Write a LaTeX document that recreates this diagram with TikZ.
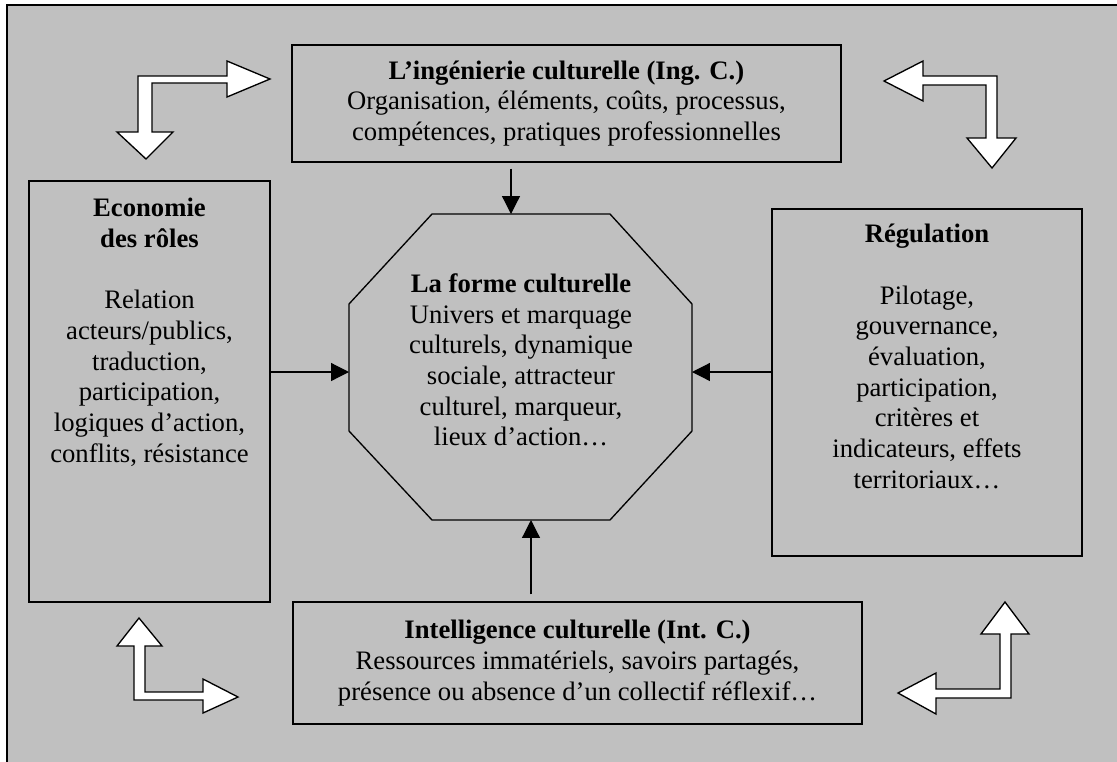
\documentclass[tikz,border=0pt]{standalone}
\usepackage{fontspec}
\setmainfont{Liberation Serif}
\usetikzlibrary{arrows.meta,fit,calc}
\definecolor{fond}{HTML}{C0C0C0}
\tikzset{
  cadre/.style={draw, fill=fond, line width=0.6pt, inner sep=0pt},
  texte/.style={align=center, inner sep=0pt, font=\fontsize{12}{13.8}\selectfont},
  fleche/.style={line width=0.55pt, -{Triangle[length=8pt,width=8pt]}},
  coude/.style={draw, fill=white, line width=0.6pt, line join=miter},
}

\begin{document}
\begin{tikzpicture}[x=0.45pt,y=-0.45pt]
\useasboundingbox (0,0) rectangle (1117,761);
\draw[fill=fond, line width=0.6pt] (7,5) rectangle (1140,780);

\node[cadre, fit={(292,45) (841,162)}] (ing) {};
\node[cadre, fit={(29,181) (270,602)}] (eco) {};
\node[cadre, fit={(772,209) (1082,556)}] (reg) {};
\node[cadre, fit={(293,602) (862,724)}] (int) {};

\coordinate (f1) at (432,214);
\coordinate (f2) at (610,214);
\coordinate (f3) at (692,304);
\coordinate (f4) at (692,431);
\coordinate (f5) at (610,520);
\coordinate (f6) at (432,520);
\coordinate (f7) at (349,431);
\coordinate (f8) at (349,304);
\draw[cadre] (f1) -- (f2) -- (f3) -- (f4) -- (f5) -- (f6) -- (f7) -- (f8) -- cycle;

\coordinate (forme-n) at (511,214);
\coordinate (forme-s) at (531,520);
\coordinate (forme-w) at (349,372);
\coordinate (forme-e) at (692,372);

\node[texte] (ing-t) at (ing.center) {\textbf{L’ingénierie culturelle (Ing. C.)}\\Organisation, éléments, coûts, processus,\\compétences, pratiques professionnelles};
\node[texte, anchor=north] (eco-t) at (149.5,198) {\textbf{Economie}\\\textbf{des rôles}\\[13.8pt]Relation\\acteurs/publics,\\traduction,\\participation,\\logiques d’action,\\conflits, résistance};
\node[texte, anchor=north] (reg-t) at (927,224) {\textbf{Régulation}\\[13.8pt]Pilotage,\\gouvernance,\\évaluation,\\participation,\\critères et\\indicateurs, effets\\territoriaux…};
\node[texte] (int-t) at (int.center) {\textbf{Intelligence culturelle (Int. C.)}\\Ressources immatériels, savoirs partagés,\\présence ou absence d’un collectif réflexif…};
\node[texte] (forme-t) at (521,360) {\textbf{La forme culturelle}\\Univers et marquage\\culturels, dynamique\\sociale, attracteur\\culturel, marqueur,\\lieux d’action…};

\draw[fleche] ($(ing.south -| forme-n)+(0,6)$) -- (forme-n);
\draw[fleche] ($(int.north -| forme-s)+(0,-7)$) -- (forme-s);
\draw[fleche] (eco.east |- forme-w) -- (forme-w);
\draw[fleche] (reg.west |- forme-e) -- (forme-e);

\draw[coude] (270,79) -- (227,61) -- (227,76) -- (138,76) -- (138,132) -- (117,132) -- (146,159) -- (173,132) -- (152,132) -- (152,83) -- (227,83) -- (227,97) -- cycle;
\draw[coude] (884,81) -- (923,61) -- (923,76) -- (997,76) -- (997,138) -- (1016,138) -- (992,168) -- (967,138) -- (986,138) -- (986,85) -- (923,85) -- (923,101) -- cycle;
\draw[coude] (139,618) -- (162,646) -- (145,646) -- (145,692) -- (203,692) -- (203,679) -- (238,697) -- (203,713) -- (203,700) -- (134,700) -- (134,646) -- (117,646) -- cycle;
\draw[coude] (1005,602) -- (1029,634) -- (1011,634) -- (1011,698) -- (936,698) -- (936,714) -- (898,693) -- (936,673) -- (936,689) -- (1000,689) -- (1000,634) -- (981,634) -- cycle;
\end{tikzpicture}
\end{document}
